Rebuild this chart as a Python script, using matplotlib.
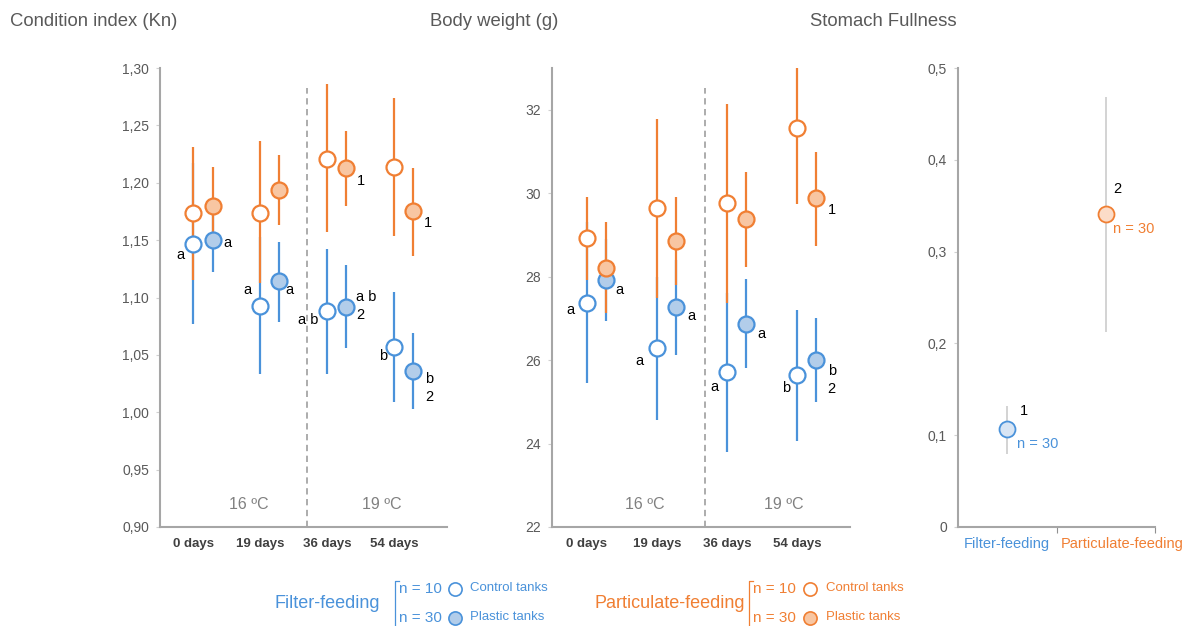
import matplotlib
matplotlib.use("Agg")
import matplotlib.pyplot as plt
import numpy as np

plt.rcParams['font.family'] = ['Liberation Sans', 'DejaVu Sans']

# ---- data ----
days = ['0 days', '19 days', '36 days', '54 days']

# condition index (Kn)
kn_ff_ctrl = [1.147, 1.093, 1.088, 1.057]
kn_ff_ctrl_lo = [1.077, 1.033, 1.033, 1.009]
kn_ff_ctrl_hi = [1.217, 1.153, 1.142, 1.105]
kn_ff_plas = [1.150, 1.114, 1.092, 1.036]
kn_ff_plas_lo = [1.122, 1.079, 1.056, 1.003]
kn_ff_plas_hi = [1.178, 1.148, 1.128, 1.069]
kn_pf_ctrl = [1.174, 1.174, 1.221, 1.214]
kn_pf_ctrl_lo = [1.115, 1.113, 1.157, 1.154]
kn_pf_ctrl_hi = [1.231, 1.236, 1.286, 1.274]
kn_pf_plas = [1.180, 1.194, 1.213, 1.175]
kn_pf_plas_lo = [1.146, 1.163, 1.180, 1.136]
kn_pf_plas_hi = [1.214, 1.224, 1.245, 1.213]

# body weight (g)
bw_ff_ctrl = [27.38, 26.29, 25.71, 25.65]
bw_ff_ctrl_lo = [25.44, 24.57, 23.80, 24.05]
bw_ff_ctrl_hi = [29.30, 28.00, 27.60, 27.19]
bw_ff_plas = [27.93, 27.27, 26.87, 26.01]
bw_ff_plas_lo = [26.93, 26.13, 25.82, 24.99]
bw_ff_plas_hi = [28.90, 28.40, 27.94, 27.02]
bw_pf_ctrl = [28.92, 29.65, 29.77, 31.57]
bw_pf_ctrl_lo = [27.91, 27.50, 27.37, 29.74]
bw_pf_ctrl_hi = [29.92, 31.78, 32.14, 33.40]
bw_pf_plas = [28.21, 28.86, 29.37, 29.88]
bw_pf_plas_lo = [27.12, 27.81, 28.22, 28.74]
bw_pf_plas_hi = [29.30, 29.90, 30.50, 30.98]

# stomach fullness
sf_groups = ['Filter-feeding', 'Particulate-feeding']
sf_mean = [0.107, 0.341]
sf_lo = [0.079, 0.212]
sf_hi = [0.132, 0.468]

# significance letters: (day index, text, dx px, dy px, ha)  dy is screen-down
kn_ff_ctrl_lab = [(0, 'a', -9, 11, 'right'), (1, 'a', -9, -16, 'right'),
                  (2, 'a b', -9, 9, 'right'), (3, 'b', -7, 9, 'right')]
kn_ff_plas_lab = [(0, 'a', 11, 3, 'left'), (1, 'a', 6, 9, 'left'),
                  (2, 'a b', 10, -10, 'left'), (2, '2', 10, 8, 'left'),
                  (3, 'b', 12, 8, 'left'), (3, '2', 12, 26, 'left')]
kn_pf_plas_lab = [(2, '1', 11, 13, 'left'), (3, '1', 11, 12, 'left')]
bw_ff_ctrl_lab = [(0, 'a', -12, 7, 'right'), (1, 'a', -13, 13, 'right'),
                  (2, 'a', -8, 15, 'right'), (3, 'b', -7, 13, 'right')]
bw_ff_plas_lab = [(0, 'a', 10, 10, 'left'), (1, 'a', 12, 9, 'left'),
                  (2, 'a', 12, 10, 'left'), (3, 'b', 12, 11, 'left'),
                  (3, '2', 12, 29, 'left')]
bw_pf_plas_lab = [(3, '1', 12, 12, 'left')]

BLUE = '#4a92da'
ORANGE = '#f07f33'
BLUE_FILL = '#b2cdea'
ORANGE_FILL = '#f8c6a2'
GRID = '#a6a6a6'
TXT = '#595959'

fig = plt.figure(figsize=(11.87, 6.26), dpi=100)


def style_axes(ax):
    for s in ['top', 'right']:
        ax.spines[s].set_visible(False)
    for s in ['left', 'bottom']:
        ax.spines[s].set_color(GRID)
        ax.spines[s].set_linewidth(1.5)
    ax.tick_params(axis='y', length=3, width=0.8, color='#d0d0d0',
                   labelcolor=TXT, labelsize=10, pad=5)


def err(ax, x, m, lo, hi, color):
    m = np.array(m)
    yerr = [m - np.array(lo), np.array(hi) - m]
    ax.errorbar(x, m, yerr=yerr, fmt='none', ecolor=color, elinewidth=1.6,
                capsize=0, zorder=2)


def dots(ax, x, m, edge, face):
    ax.plot(x, m, 'o', ms=11.5, mfc=face, mec=edge, mew=1.6, zorder=4,
            linestyle='none')


def letters(ax, xs, ys, labs):
    for i, t, dx, dy, ha in labs:
        ax.annotate(t, (xs[i], ys[i]), xytext=(dx, -dy),
                    textcoords='offset pixels', ha=ha, va='center',
                    fontsize=10.5, color='black', zorder=5)


def time_panel(rect, vals, ylim, yticks, yfmt, xright, off, labs, temp_y):
    ax = fig.add_axes(rect)
    style_axes(ax)
    x = np.arange(len(days))
    (ffc, ffc_lo, ffc_hi, ffp, ffp_lo, ffp_hi,
     pfc, pfc_lo, pfc_hi, pfp, pfp_lo, pfp_hi) = vals
    err(ax, x, ffc, ffc_lo, ffc_hi, BLUE)
    err(ax, x + off, ffp, ffp_lo, ffp_hi, BLUE)
    err(ax, x, pfc, pfc_lo, pfc_hi, ORANGE)
    err(ax, x + off, pfp, pfp_lo, pfp_hi, ORANGE)
    dots(ax, x, ffc, BLUE, 'white')
    dots(ax, x + off, ffp, BLUE, BLUE_FILL)
    dots(ax, x, pfc, ORANGE, 'white')
    dots(ax, x + off, pfp, ORANGE, ORANGE_FILL)
    letters(ax, x, ffc, labs[0])
    letters(ax, x + off, ffp, labs[1])
    letters(ax, x + off, pfp, labs[2])
    ax.axvline(1.69, ymin=0, ymax=0.956, color=GRID, lw=1.3,
               linestyle=(0, (3.5, 2.5)), zorder=1)
    ax.set_xlim(-0.5, xright)
    ax.set_ylim(*ylim)
    ax.set_yticks(yticks)
    ax.set_yticklabels([yfmt(v) for v in yticks])
    ax.set_xticks(x)
    ax.set_xticklabels(days, fontweight='bold', fontsize=9.5, color='#404040')
    ax.tick_params(axis='x', length=0, pad=8)
    ax.text(0.83, temp_y, '16 ºC', ha='center', va='center', fontsize=11.5,
            color='#808080')
    ax.text(2.82, temp_y, '19 ºC', ha='center', va='center', fontsize=11.5,
            color='#808080')
    return ax


bottom = 1 - 527 / 626
height = (527 - 68) / 626

kn_vals = (kn_ff_ctrl, kn_ff_ctrl_lo, kn_ff_ctrl_hi, kn_ff_plas, kn_ff_plas_lo,
           kn_ff_plas_hi, kn_pf_ctrl, kn_pf_ctrl_lo, kn_pf_ctrl_hi,
           kn_pf_plas, kn_pf_plas_lo, kn_pf_plas_hi)
time_panel([160 / 1187, bottom, 287 / 1187, height], kn_vals, (0.90, 1.30),
           np.round(np.arange(0.90, 1.301, 0.05), 2),
           lambda v: f'{v:.2f}'.replace('.', ','), 3.79, 0.285,
           (kn_ff_ctrl_lab, kn_ff_plas_lab, kn_pf_plas_lab), 0.92)

bw_vals = (bw_ff_ctrl, bw_ff_ctrl_lo, bw_ff_ctrl_hi, bw_ff_plas, bw_ff_plas_lo,
           bw_ff_plas_hi, bw_pf_ctrl, bw_pf_ctrl_lo, bw_pf_ctrl_hi,
           bw_pf_plas, bw_pf_plas_lo, bw_pf_plas_hi)
time_panel([552 / 1187, bottom, 298 / 1187, height], bw_vals, (22, 33),
           [22, 24, 26, 28, 30, 32], lambda v: f'{v:d}', 3.76, 0.27,
           (bw_ff_ctrl_lab, bw_ff_plas_lab, bw_pf_plas_lab), 22.55)

# stomach fullness panel
ax3 = fig.add_axes([958 / 1187, bottom, 197 / 1187, height])
style_axes(ax3)
sx = np.array([0.5, 1.5])
sm = np.array(sf_mean)
ax3.errorbar(sx, sm, yerr=[sm - np.array(sf_lo), np.array(sf_hi) - sm],
             fmt='none', ecolor='#c8c8c8', elinewidth=1.1, capsize=0, zorder=2)
ax3.plot(sx[0], sm[0], 'o', ms=11.5, mfc='#d8e5f4', mec=BLUE, mew=1.3, zorder=4)
ax3.plot(sx[1], sm[1], 'o', ms=11.5, mfc='#fcdcc8', mec=ORANGE, mew=1.3, zorder=4)
ax3.annotate('1', (sx[0], sm[0]), xytext=(13, 18), textcoords='offset pixels',
             ha='left', va='center', fontsize=10.5)
ax3.annotate('n = 30', (sx[0], sm[0]), xytext=(10, -15), textcoords='offset pixels',
             ha='left', va='center', fontsize=10.5, color=BLUE)
ax3.annotate('2', (sx[1], sm[1]), xytext=(8, 25), textcoords='offset pixels',
             ha='left', va='center', fontsize=10.5)
ax3.annotate('n = 30', (sx[1], sm[1]), xytext=(7, -15), textcoords='offset pixels',
             ha='left', va='center', fontsize=10.5, color=ORANGE)
ax3.set_xlim(0, 2)
ax3.set_ylim(0, 0.5)
ax3.set_yticks([0, 0.1, 0.2, 0.3, 0.4, 0.5])
ax3.set_yticklabels(['0', '0,1', '0,2', '0,3', '0,4', '0,5'])
ax3.set_xticks([1, 2])
ax3.set_xticklabels([])
ax3.tick_params(axis='x', length=4, width=0.8, color='#909090')
ax3.text(0.5, -0.019, sf_groups[0], ha='center', va='center', fontsize=10.5,
         color=BLUE)
ax3.text(1.665, -0.019, sf_groups[1], ha='center', va='center', fontsize=10.5,
         color=ORANGE)

# titles
fig.text(10 / 1187, 1 - 22 / 626, 'Condition index (Kn)', ha='left', va='center',
         fontsize=13.3, color=TXT)
fig.text(430 / 1187, 1 - 22 / 626, 'Body weight (g)', ha='left', va='center',
         fontsize=13.3, color=TXT)
fig.text(810 / 1187, 1 - 22 / 626, 'Stomach Fullness', ha='left', va='center',
         fontsize=13.3, color=TXT)

# legend drawn in pixel space
lg = fig.add_axes([0, 0, 1, 1])
lg.set_xlim(0, 1187)
lg.set_ylim(626, 0)
lg.axis('off')
lg.patch.set_alpha(0)
legend_groups = [(274, 'Filter-feeding', BLUE, BLUE_FILL, 395, 455, 470),
                 (594, 'Particulate-feeding', ORANGE, ORANGE_FILL, 749, 810, 826)]
for x0, name, col, fill, bx, cx, tx in legend_groups:
    lg.text(x0, 604, name, ha='left', va='center', fontsize=13, color=col)
    lg.plot([bx + 4, bx, bx], [581, 581, 626], color=col, lw=0.9, clip_on=False)
    for yy, n, face, lab in [(589, 'n = 10', 'white', 'Control tanks'),
                             (618, 'n = 30', fill, 'Plastic tanks')]:
        lg.text(bx + 4, yy, n, ha='left', va='center', fontsize=11, color=col)
        lg.plot(cx, yy, 'o', ms=9.5, mfc=face, mec=col, mew=1.2, clip_on=False)
        lg.text(tx, yy - 1, lab, ha='left', va='center', fontsize=9.5, color=col)

fig.savefig('out.png', dpi=100)
